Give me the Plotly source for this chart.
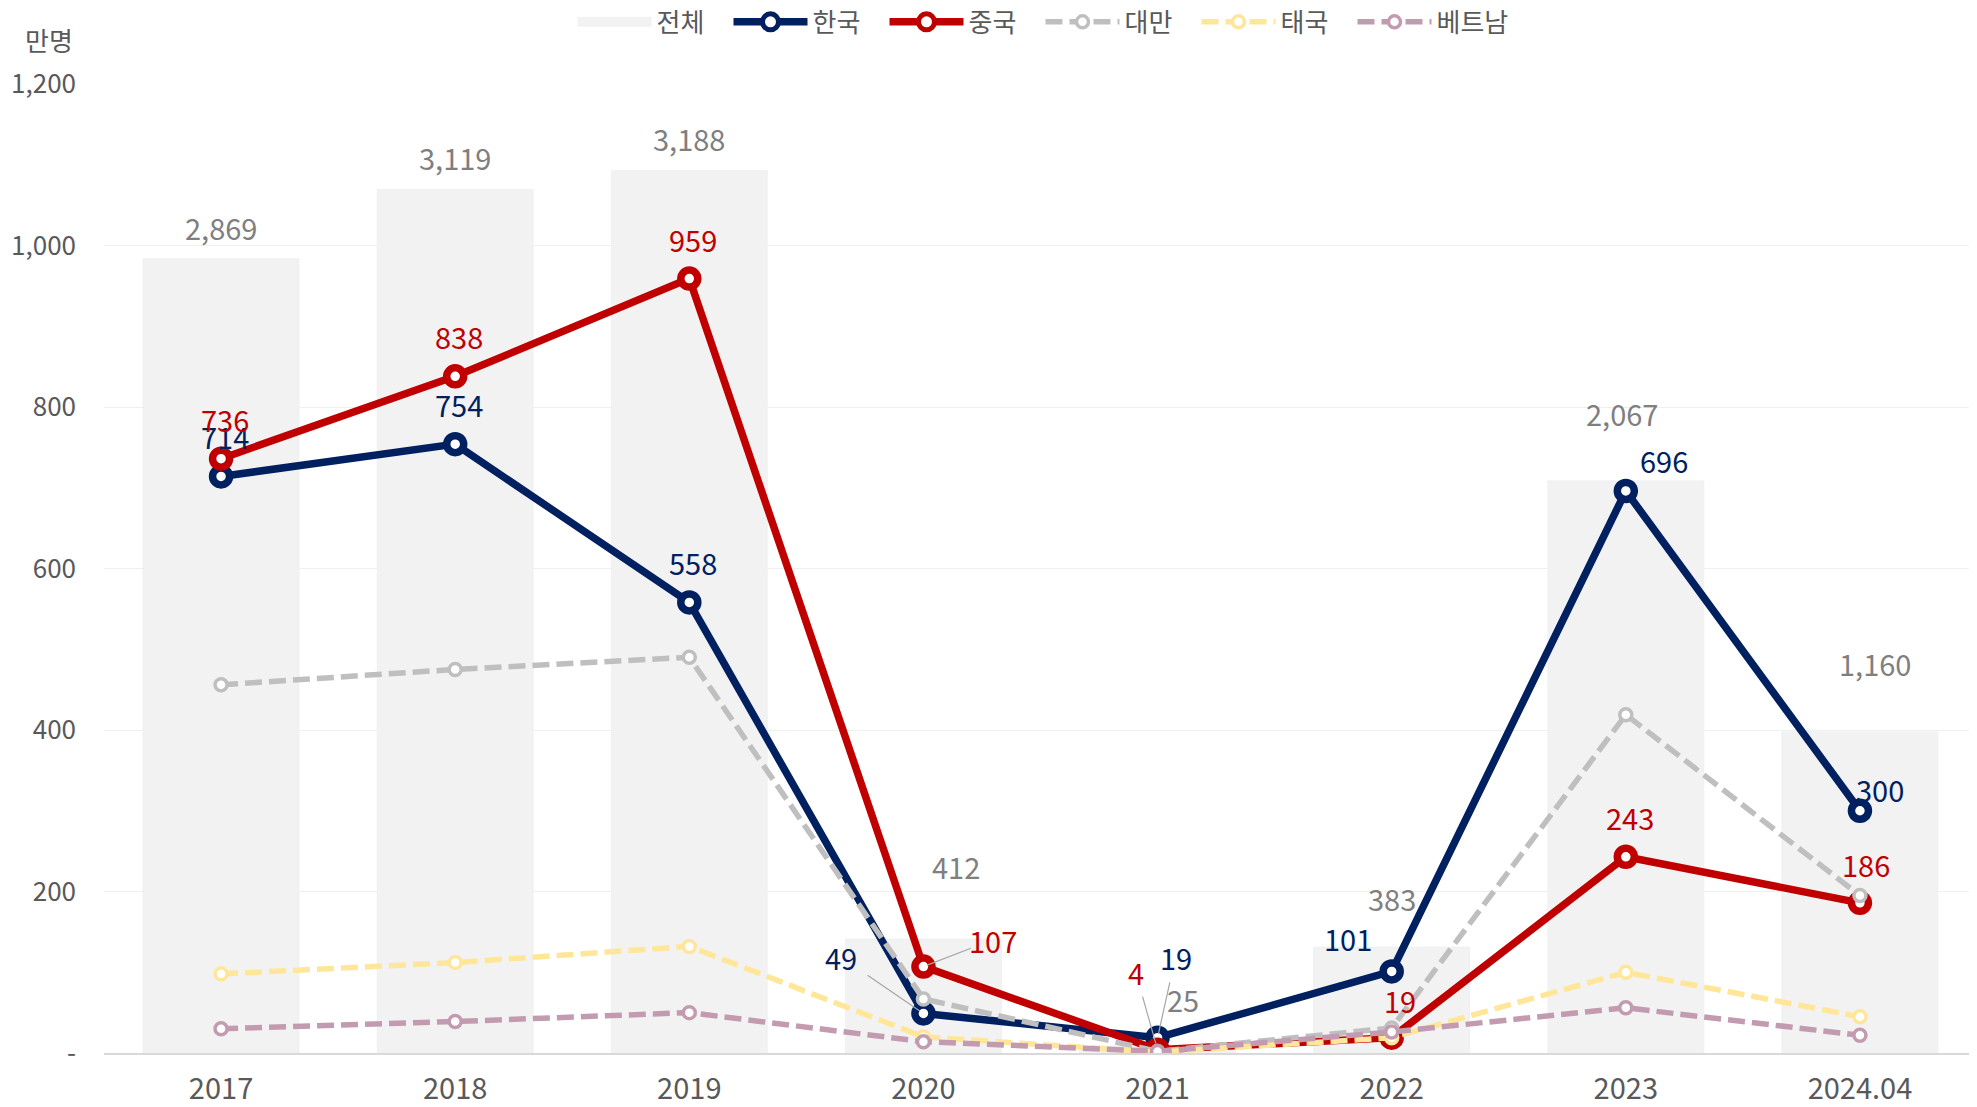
import plotly.graph_objects as go

categories = ["2017", "2018", "2019", "2020", "2021", "2022", "2023", "2024.04"]
total = [2869, 3119, 3188, 412, 25, 383, 2067, 1160]
korea = [714, 754, 558, 49, 19, 101, 696, 300]
china = [736, 838, 959, 107, 4, 19, 243, 186]
taiwan = [456, 475, 490, 67, 2, 31, 419, 195]
thailand = [98, 112, 132, 20, 1, 19, 100, 45]
vietnam = [30, 39, 50, 14, 2, 26, 56, 22]
y_ticks = [0, 200, 400, 600, 800, 1000, 1200]
y_tick_text = ["-", "200", "400", "600", "800", "1,000", "1,200"]

FONT = "Noto Sans CJK KR"
C_TOTAL = "#F2F2F2"
C_KOR = "#002060"
C_CHN = "#C00000"
C_TWN = "#BFBFBF"
C_THA = "#FFE699"
C_VNM = "#C39BB0"
C_TXT = "#595959"
C_GRAY = "#7F7F7F"

fig = go.Figure()

fig.add_trace(go.Bar(x=categories, y=total, name="전체", marker_color=C_TOTAL,
                     yaxis="y", hoverinfo="skip", showlegend=False))
# legend entry for the total bars (wide swatch)
fig.add_trace(go.Scatter(x=[None], y=[None], name="전체", mode="lines", yaxis="y2",
                         line=dict(color=C_TOTAL, width=14)))

def solid(name, vals, color):
    fig.add_trace(go.Scatter(x=categories, y=vals, name=name, yaxis="y2",
                             mode="lines+markers",
                             line=dict(color=color, width=7.5),
                             marker=dict(symbol="circle", size=17, color="white",
                                         line=dict(color=color, width=7.5))))

def dashed(name, vals, color):
    fig.add_trace(go.Scatter(x=categories, y=vals, name=name, yaxis="y2",
                             mode="lines+markers",
                             line=dict(color=color, width=5.5, dash="17px,7px"),
                             marker=dict(symbol="circle", size=12, color="white",
                                         line=dict(color=color, width=3.5))))

solid("한국", korea, C_KOR)
solid("중국", china, C_CHN)
dashed("대만", taiwan, C_TWN)
dashed("태국", thailand, C_THA)
dashed("베트남", vietnam, C_VNM)

# label offsets (pixels): (xshift, yshift, leader)
total_off = [(0, 32, False), (0, 32, False), (0, 32, False), (33, 73, False),
             (25, 47, False), (0, 49, False), (-4, 68, False), (15, 69, False)]
korea_off = [(4, 40, False), (4, 40, False), (4, 40, False), (-82, 56, True),
             (18, 81, True), (-44, 33, False), (38, 31, False), (20, 22, False)]
china_off = [(4, 40, False), (4, 40, False), (4, 40, False), (70, 27, True),
             (-22, 78, True), (8, 38, False), (4, 40, False), (6, 39, False)]

def add_labels(vals, offs, color, yref):
    for i, (v, (dx, dy, leader)) in enumerate(zip(vals, offs)):
        txt = f"{v:,}"
        if leader:
            fig.add_annotation(x=i, y=v, xref="x", yref=yref, text="",
                               showarrow=True, arrowhead=0, arrowwidth=1.2,
                               arrowcolor="#A6A6A6", ax=dx * 0.7, ay=-dy * 0.7,
                               standoff=4)
        fig.add_annotation(x=i, y=v, xref="x", yref=yref, text=txt,
                           showarrow=False, xshift=dx, yshift=dy,
                           font=dict(family=FONT, size=29, color=color))

add_labels(total, total_off, C_GRAY, "y")
add_labels(korea, korea_off, C_KOR, "y2")
add_labels(china, china_off, C_CHN, "y2")

# unit label at top-left
fig.add_annotation(x=-0.0294, y=1.0, xref="paper", yref="paper", text="만명",
                   xanchor="center", yanchor="middle", yshift=45, showarrow=False,
                   font=dict(family=FONT, size=26, color=C_TXT))

fig.update_layout(
    width=1969, height=1099,
    margin=dict(l=96, r=0, t=76, b=50),
    paper_bgcolor="white", plot_bgcolor="white",
    font=dict(family=FONT, size=24, color=C_TXT),
    bargap=0.333,
    showlegend=True,
    legend=dict(orientation="h", x=0.5, xanchor="center", y=0.9873, yref="container",
                yanchor="middle", font=dict(family=FONT, size=26, color=C_TXT),
                itemwidth=74, entrywidth=67, entrywidthmode="pixels",
                traceorder="normal", bgcolor="rgba(0,0,0,0)"),
    xaxis=dict(type="category", range=[-0.5, 7.5], showgrid=False, showline=True,
               linecolor="#D9D9D9", linewidth=2, ticks="",
               tickfont=dict(family=FONT, size=29, color=C_TXT),
               ticklabelstandoff=9, zeroline=False),
    yaxis=dict(range=[0, 3500], visible=False, showgrid=False, zeroline=False),
    yaxis2=dict(range=[0, 1200], overlaying="y", side="left", showgrid=True,
                gridcolor="#EFEFEF", gridwidth=1, zeroline=False,
                tickmode="array", tickvals=y_ticks, ticktext=y_tick_text,
                tickfont=dict(family=FONT, size=26, color=C_TXT),
                ticklabelstandoff=27, ticks=""),
)

fig.write_html("out.html")
